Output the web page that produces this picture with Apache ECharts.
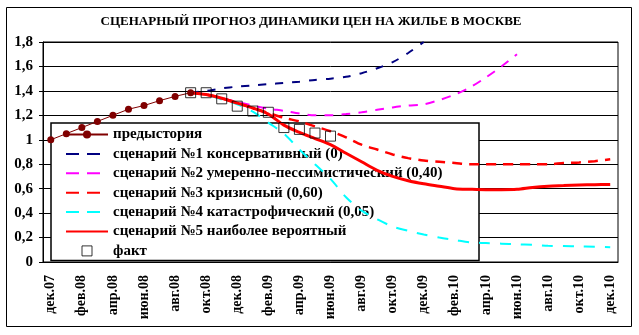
<!DOCTYPE html>
<html>
<head>
<meta charset="utf-8">
<script src="https://cdn.jsdelivr.net/npm/echarts@6/dist/echarts.min.js"></script>
<style>
html,body{margin:0;padding:0;background:#fff;}
#chart{width:639px;height:335px;}
</style>
</head>
<body>
<div id="chart"></div>
<script>
var months = ['дек.07','янв.08','фев.08','мар.08','апр.08','май.08','июн.08','июл.08','авг.08','сен.08','окт.08','ноя.08','дек.08','янв.09','фев.09','мар.09','апр.09','май.09','июн.09','июл.09','авг.09','сен.09','окт.09','ноя.09','дек.09','янв.10','фев.10','мар.10','апр.10','май.10','июн.10','июл.10','авг.10','сен.10','окт.10','ноя.10','дек.10'];
var titleText = 'СЦЕНАРНЫЙ ПРОГНОЗ ДИНАМИКИ ЦЕН НА ЖИЛЬЕ В МОСКВЕ';
var seriesNames = ['предыстория','сценарий №1 консервативный (0)','сценарий №2 умеренно-пессимистический (0,40)','сценарий №3 кризисный (0,60)','сценарий №4 катастрофический (0,05)','сценарий №5 наиболее вероятный','факт'];
// values by month index; forecasts start at index 9 (сен.08)
var prehistory = [1.00,1.05,1.10,1.15,1.20,1.25,1.28,1.32,1.355,1.385];
var scen1 = [1.385,1.40,1.42,1.435,1.445,1.455,1.465,1.475,1.49,1.50,1.515,1.545,1.585,1.635,1.71,1.80];
var scen2 = [1.385,1.37,1.34,1.31,1.28,1.255,1.237,1.215,1.20,1.20,1.21,1.225,1.245,1.265,1.28,1.29,1.325,1.37,1.43,1.51,1.60,1.70];
var scen3 = [1.385,1.37,1.34,1.30,1.26,1.22,1.18,1.15,1.11,1.07,1.02,0.96,0.92,0.88,0.85,0.83,0.82,0.81,0.80,0.80,0.80,0.80,0.80,0.80,0.81,0.815,0.825,0.84];
var scen4 = [1.385,1.37,1.33,1.29,1.23,1.14,1.05,0.92,0.80,0.68,0.53,0.42,0.35,0.29,0.255,0.225,0.20,0.18,0.16,0.155,0.15,0.145,0.14,0.133,0.13,0.127,0.125,0.12];
var scen5 = [1.385,1.37,1.34,1.30,1.26,1.21,1.12,1.06,1.01,0.96,0.89,0.82,0.75,0.70,0.665,0.64,0.62,0.60,0.595,0.592,0.592,0.595,0.61,0.62,0.625,0.63,0.633,0.635];
var fact = [1.385,1.385,1.335,1.275,1.235,1.225,1.10,1.085,1.055,1.03];
var forecastStart = 9;

function place(arr, start) {
  var out = [];
  for (var i = 0; i < months.length; i++) {
    var j = i - start;
    out.push(j >= 0 && j < arr.length ? arr[j] : null);
  }
  return out;
}

var FONT = '"Liberation Serif","Times New Roman",serif';
var chart = echarts.init(document.getElementById('chart'), null, {renderer:'canvas'});
var squarePath = 'path://M0,0H10V10H0Z';

function dashLine(name, arr, color, width, dash) {
  return {
    name: name, type: 'line', data: place(arr, forecastStart), symbol: 'none',
    smooth: 0.3, z: 2, connectNulls: false,
    lineStyle: {color: color, width: width, type: dash},
    itemStyle: {color: color}
  };
}
var noSym = {opacity: 0};
var legendDash = {type: [13, 8]};

chart.setOption({
  animation: false,
  backgroundColor: '#fff',
  graphic: [
    {type:'rect', shape:{x:6.5, y:7.5, width:625, height:319}, style:{fill:'none', stroke:'#000', lineWidth:1}, z:-1},
    {type:'text', x:311, y:22, style:{text:titleText, font:'bold 13px ' + FONT, fill:'#000', textAlign:'center', textVerticalAlign:'middle'}}
  ],
  grid: {left:43, right:21, top:42, bottom:73, show:true, borderColor:'#000', borderWidth:1, backgroundColor:'transparent'},
  xAxis: {
    type:'category', data: months, boundaryGap: true,
    axisLine:{lineStyle:{color:'#000', width:1}},
    axisTick:{interval:1, length:6, lineStyle:{color:'#000'}},
    axisLabel:{interval:1, rotate:90, margin:13, fontSize:14, fontWeight:'bold', fontFamily:FONT, color:'#000'},
    splitLine:{show:false}
  },
  yAxis: {
    type:'value', min:0, max:1.8, interval:0.2,
    axisLine:{show:true, lineStyle:{color:'#000'}},
    axisTick:{show:true, length:4, lineStyle:{color:'#000'}},
    axisLabel:{margin:10, fontSize:15, fontWeight:'bold', fontFamily:FONT, color:'#000',
      formatter:function(v){ return String(Math.round(v*10)/10).replace('.', ','); }},
    splitLine:{show:true, lineStyle:{color:'#000', width:1}}
  },
  legend: {
    orient:'vertical', left:51, top:123, z:1,
    padding:[4, 8, 2, 14],
    itemWidth:42, itemHeight:10, itemGap:4.4,
    backgroundColor:'#fff', borderColor:'#000', borderWidth:1.5,
    textStyle:{fontSize:15, lineHeight:15, fontWeight:'bold', fontFamily:FONT, color:'#000', width:358, overflow:'none'},
    data: [
      {name: seriesNames[0]},
      {name: seriesNames[1], itemStyle: noSym, lineStyle: legendDash},
      {name: seriesNames[2], itemStyle: noSym, lineStyle: legendDash},
      {name: seriesNames[3], itemStyle: noSym, lineStyle: legendDash},
      {name: seriesNames[4], itemStyle: noSym, lineStyle: legendDash},
      {name: seriesNames[5], itemStyle: noSym},
      {name: seriesNames[6], icon: squarePath, itemStyle:{color:'rgba(255,255,255,0)', borderColor:'#000', borderWidth:1}}
    ]
  },
  series: [
    {
      name: seriesNames[0], type:'line', data: place(prehistory, 0), z:3,
      symbol:'circle', symbolSize:7, showSymbol:true,
      lineStyle:{color:'#800000', width:1}, itemStyle:{color:'#800000'}
    },
    dashLine(seriesNames[1], scen1, '#000080', 2, [8, 9]),
    dashLine(seriesNames[2], scen2, '#FF00FF', 2, [9, 8]),
    dashLine(seriesNames[3], scen3, '#FF0000', 2.5, [10, 7]),
    dashLine(seriesNames[4], scen4, '#00FFFF', 2, [11, 10]),
    {
      name: seriesNames[5], type:'line', data: place(scen5, forecastStart), symbol:'none', smooth:0.3, z:2,
      lineStyle:{color:'#FF0000', width:3}, itemStyle:{color:'#FF0000'}
    },
    {
      name: seriesNames[6], type:'scatter', data: place(fact, forecastStart), z:4,
      symbol: squarePath, symbolSize:10,
      itemStyle:{color:'rgba(255,255,255,0)', borderColor:'#000', borderWidth:1}
    }
  ]
});
</script>
</body>
</html>
